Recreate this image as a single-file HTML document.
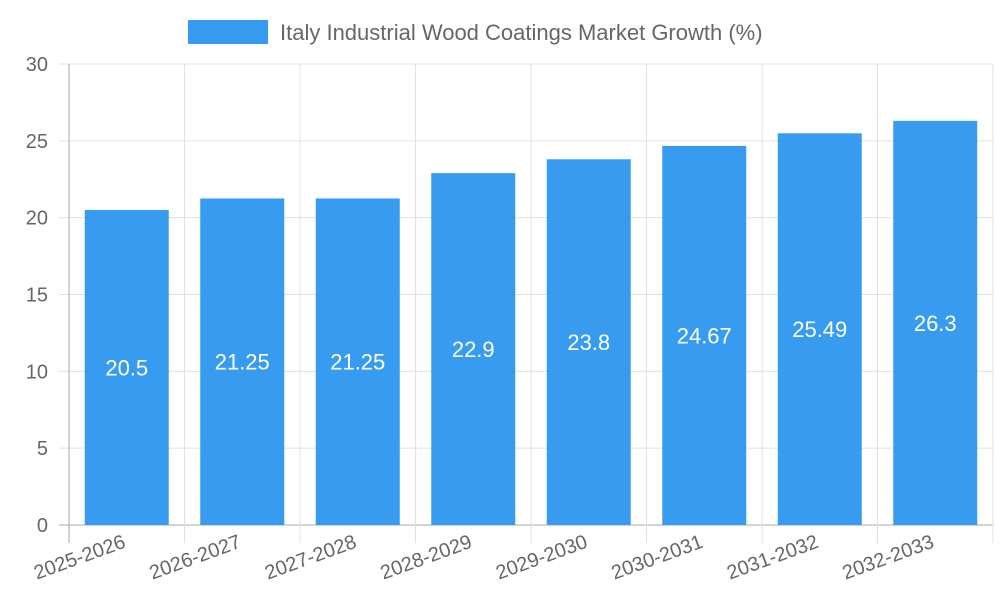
<!DOCTYPE html>
<html><head><meta charset="utf-8"><style>
body{margin:0;background:#fff;}
svg{display:block;font-family:"Liberation Sans",sans-serif;}
</style></head><body>
<svg id="chart" width="1000" height="600">
<g>
<rect x="188" y="20" width="80" height="24" fill="#379bf0"></rect>
<text x="280" y="40" font-size="22" fill="#666">Italy Industrial Wood Coatings Market Growth (%)</text>
</g>
<g id="grid"></g><g id="bars"></g><g id="axes"></g>
</svg>
<script>
const categories=["2025-2026","2026-2027","2027-2028","2028-2029","2029-2030","2030-2031","2031-2032","2032-2033"];
const values=[20.5,21.25,21.25,22.9,23.8,24.67,25.49,26.3];
const yTicks=[0,5,10,15,20,25,30];
const NS="http://www.w3.org/2000/svg";
const L=69,R=993,T=64,B=525,yMax=30;
const bw=(R-L)/categories.length;
const y=v=>B-(v/yMax)*(B-T);
const x=i=>L+bw*i;
function mk(tag,attrs,parent){const e=document.createElementNS(NS,tag);for(const k in attrs)e.setAttribute(k,attrs[k]);document.getElementById(parent).appendChild(e);return e;}
yTicks.forEach(t=>{
 const g=mk('line',{x1:59,x2:R,y1:y(t),y2:y(t),stroke:t===0?'#aaa':'#e0e0e0','stroke-width':1},'grid');
 
 
 const tx=mk('text',{x:48,y:y(t)+7,'text-anchor':'end','font-size':20,fill:'#666'},'axes');
 tx.textContent=t;
 
 
});
for(let i=0;i<=categories.length;i++){
 const g=mk('line',{x1:x(i),x2:x(i),y1:T,y2:B+18,stroke:i===0?'#aaa':'#e0e0e0','stroke-width':1},'grid');
 
 
}
categories.forEach((c,i)=>{
 const cx=x(i)+bw/2, w=84;
 const r=mk('rect',{x:cx-w/2,y:y(values[i]),width:w,height:B-y(values[i]),fill:'#379bf0'},'bars');
 
 
 const lt=mk('text',{x:cx,y:(y(values[i])+B)/2+8,'text-anchor':'middle','font-size':22,fill:'#fff'},'bars');
 lt.textContent=values[i];
 
 
 const xl=mk('text',{x:cx,y:547,'text-anchor':'end','font-size':20,fill:'#666',transform:`rotate(-20 ${cx} 547)`},'axes');
 xl.textContent=c;
 
 
});
</script>
</body></html>
